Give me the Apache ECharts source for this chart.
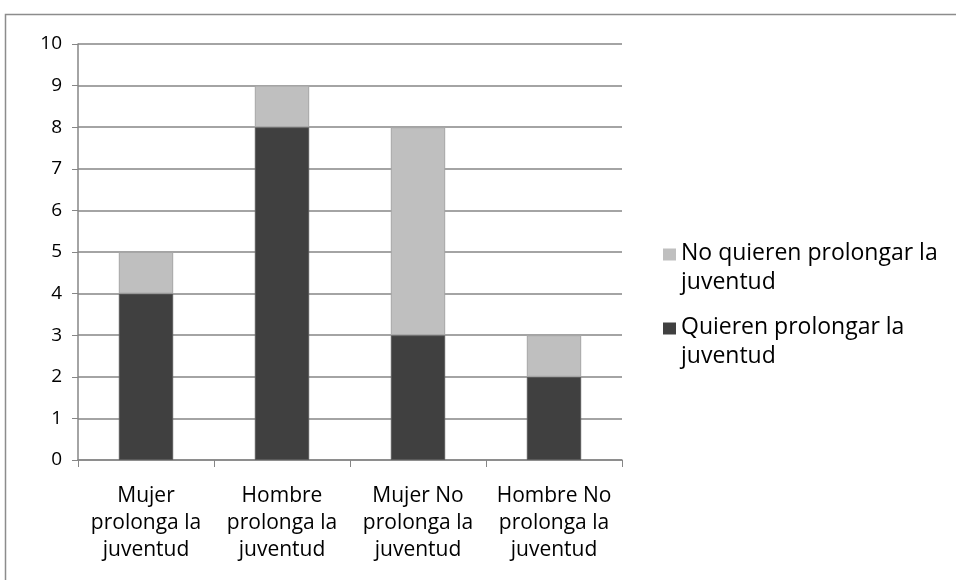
<!DOCTYPE html>
<html>
<head>
<meta charset="utf-8">
<script src="https://cdn.jsdelivr.net/npm/echarts@6/dist/echarts.min.js"></script>
<style>
  html, body { margin: 0; padding: 0; background: #fff; }
  #chart { width: 956px; height: 580px; }
</style>
</head>
<body>
<div id="chart"></div>
<script>
var categorias = ['Mujer\nprolonga la\njuventud', 'Hombre\nprolonga la\njuventud', 'Mujer No\nprolonga la\njuventud', 'Hombre No\nprolonga la\njuventud'];
var quieren = [4, 8, 3, 2];
var noQuieren = [1, 1, 5, 1];
var yTicks = [0, 1, 2, 3, 4, 5, 6, 7, 8, 9, 10];

var fuente = 'Open Sans';
var chart = echarts.init(document.getElementById('chart'));

// icono de leyenda: cuadrado arriba, punto invisible abajo para alinear con la primera linea
var iconoLeyenda = 'path://M0,0L13,0L13,12L0,12Z M0,39L0,39';

chart.setOption({
    animation: false,
    graphic: [{
        type: 'rect',
        shape: { x: 5.5, y: 14.5, width: 1000, height: 700 },
        style: { fill: 'none', stroke: '#8c8c8c', lineWidth: 1.5 }
    }],
    grid: { left: 78, right: 334, top: 44, bottom: 120 },
    legend: {
        orient: 'vertical',
        left: 658,
        top: 234,
        itemWidth: 13,
        itemHeight: 39,
        itemGap: 16,
        icon: iconoLeyenda,
        itemStyle: { borderWidth: 0 },
        data: ['No quieren prolongar la juventud', 'Quieren prolongar la juventud'],
        formatter: function (name) {
            return name.replace(' la juventud', ' la\njuventud');
        },
        textStyle: { fontFamily: fuente, fontSize: 23, color: '#000', lineHeight: 29 }
    },
    xAxis: {
        type: 'category',
        data: categorias,
        axisLine: { lineStyle: { color: '#868686', width: 1.5 } },
        axisTick: { show: true, length: 7, lineStyle: { color: '#868686' } },
        axisLabel: {
            fontFamily: fuente, fontSize: 21, color: '#000',
            lineHeight: 27, margin: 23, interval: 0
        }
    },
    yAxis: {
        type: 'value',
        min: yTicks[0],
        max: yTicks[yTicks.length - 1],
        interval: 1,
        axisLine: { show: true, lineStyle: { color: '#868686', width: 1.5 } },
        axisTick: { show: true, length: 6, lineStyle: { color: '#868686' } },
        splitLine: { lineStyle: { color: '#868686', width: 1.5 } },
        axisLabel: { fontFamily: fuente, fontSize: 19, color: '#000', margin: 16 }
    },
    series: [{
        name: 'Quieren prolongar la juventud',
        type: 'bar',
        stack: 'total',
        data: quieren,
        barWidth: '40%',
        itemStyle: { color: '#404040', borderColor: '#5a5a5a', borderWidth: 1 }
    }, {
        name: 'No quieren prolongar la juventud',
        type: 'bar',
        stack: 'total',
        data: noQuieren,
        barWidth: '40%',
        itemStyle: { color: '#bfbfbf', borderColor: '#a6a6a6', borderWidth: 1 }
    }]
});
</script>
</body>
</html>
